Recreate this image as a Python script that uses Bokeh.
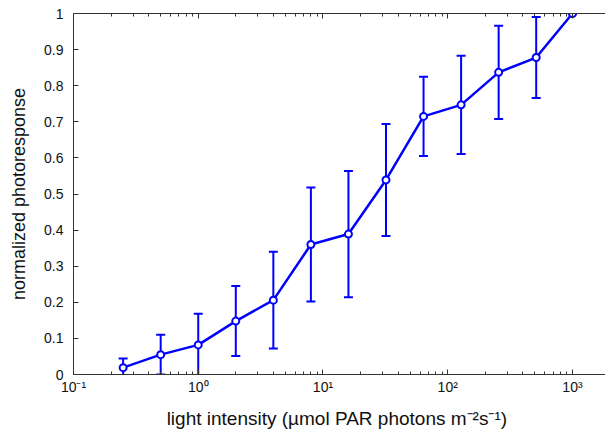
from bokeh.plotting import figure
from bokeh.models import Range1d, FixedTicker, LogAxis, Whisker, ColumnDataSource, TeeHead
from bokeh.embed import file_html
from bokeh.resources import INLINE

# data
intensity = [0.25, 0.5, 1, 2, 4, 8, 16, 32, 64, 128, 256, 512, 1000]
response = [0.019, 0.055, 0.082, 0.148, 0.206, 0.360, 0.389, 0.539, 0.715, 0.747, 0.837, 0.878, 1.0]
error = [0.025, 0.055, 0.086, 0.097, 0.134, 0.158, 0.175, 0.155, 0.110, 0.136, 0.129, 0.112, 0.0]

x_ticks = [0.1, 1, 10, 100, 1000]
x_tick_labels = ["10⁻¹", "10⁰", "10¹", "10²", "10³"]
y_ticks = [0, 0.1, 0.2, 0.3, 0.4, 0.5, 0.6, 0.7, 0.8, 0.9, 1]
y_tick_labels = ["0", "0.1", "0.2", "0.3", "0.4", "0.5", "0.6", "0.7", "0.8", "0.9", "1"]

x_title = "light intensity (µmol PAR photons  m⁻²s⁻¹)"
y_title = "normalized photoresponse"

FONT = "Liberation Sans"
BLUE = "#0000ff"

lower = [r - e for r, e in zip(response, error)]
upper = [r + e for r, e in zip(response, error)]
src = ColumnDataSource(dict(x=intensity, y=response, lo=lower, hi=upper))

p = figure(width=605, height=435, output_backend="svg", toolbar_location=None,
           x_axis_type="log", x_range=Range1d(0.1, 1840), y_range=Range1d(0, 1),
           min_border_left=73, min_border_right=0, min_border_top=13, min_border_bottom=61)
p.outline_line_color = None
p.grid.visible = False
p.background_fill_color = "white"
p.border_fill_color = "white"

minor = [d * k for d in x_ticks for k in range(2, 10)]

xa = p.xaxis[0]
xa.ticker = FixedTicker(ticks=x_ticks, minor_ticks=minor)
xa.major_label_overrides = {t: l for t, l in zip(x_ticks, x_tick_labels)}
ya = p.yaxis[0]
ya.ticker = FixedTicker(ticks=y_ticks)
ya.major_label_overrides = {t: l for t, l in zip(y_ticks, y_tick_labels)}

for ax in (xa, ya):
    ax.major_tick_in = 5
    ax.major_tick_out = 0
    ax.minor_tick_in = 3
    ax.minor_tick_out = 0
    ax.axis_line_color = "#333333"
    ax.major_tick_line_color = "#333333"
    ax.minor_tick_line_color = "#333333"
    ax.major_label_text_font = FONT
    ax.major_label_text_font_size = "14px"
    ax.major_label_text_color = "#111111"
    ax.axis_label_text_font = FONT
    ax.axis_label_text_font_size = "18px"
    ax.axis_label_text_font_style = "normal"
    ax.axis_label_text_color = "#111111"

ya.minor_tick_line_color = None
xa.axis_label = x_title
xa.axis_label_text_font_size = "19px"
ya.axis_label = y_title
xa.major_label_standoff = 4
xa.axis_label_standoff = 10
ya.major_label_standoff = 10
ya.axis_label_standoff = 12

top = LogAxis(ticker=FixedTicker(ticks=x_ticks, minor_ticks=minor))
top.major_tick_in = 5
top.major_tick_out = 0
top.minor_tick_in = 3
top.minor_tick_out = 0
top.major_label_overrides = {t: "" for t in x_ticks}
top.major_label_standoff = 0
top.axis_line_color = "#333333"
top.major_tick_line_color = "#333333"
top.minor_tick_line_color = "#333333"
p.add_layout(top, "above")

p.add_layout(Whisker(source=src, base="x", lower="lo", upper="hi",
                     line_color=BLUE, line_width=2,
                     upper_head=TeeHead(size=9, line_color=BLUE, line_width=2),
                     lower_head=TeeHead(size=9, line_color=BLUE, line_width=2)))
p.line("x", "y", source=src, line_color=BLUE, line_width=2.5)
p.scatter("x", "y", source=src, size=7, line_color=BLUE, line_width=2, fill_color="white")

open("out.html", "w").write(file_html(p, INLINE))
